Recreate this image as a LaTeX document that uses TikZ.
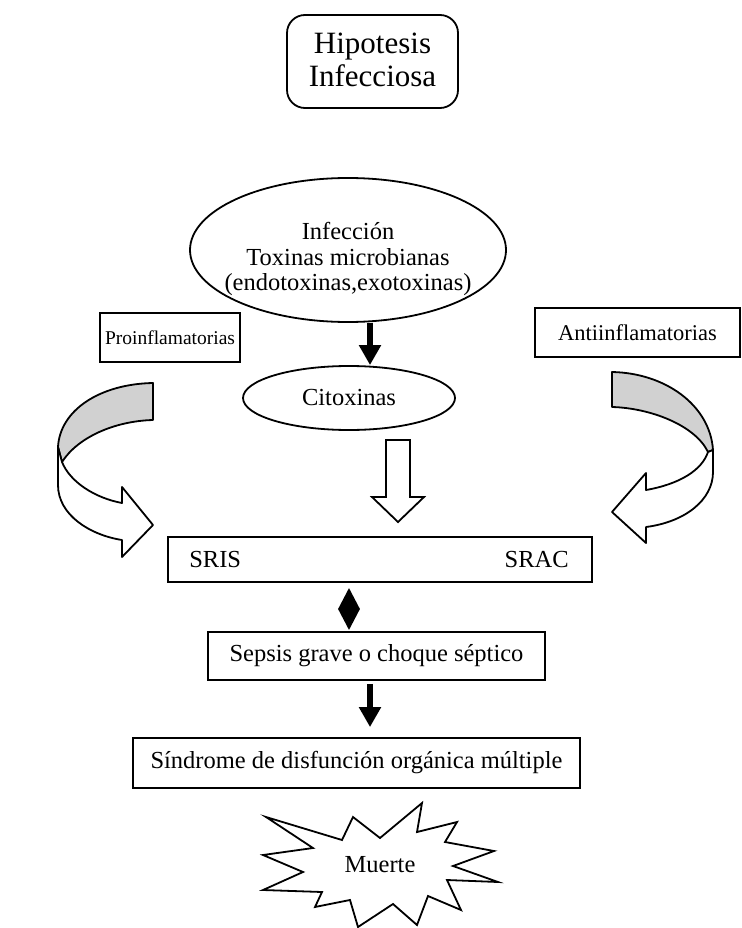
\documentclass[tikz,border=0pt]{standalone}
\usepackage{fontspec}
\setmainfont{Liberation Serif}
\usetikzlibrary{shapes.geometric,arrows.meta,calc}
\begin{document}
\begin{tikzpicture}[x=1pt,y=-1pt,
  lw/.style={line width=1.8pt},
  boxst/.style={draw, lw, inner sep=0pt, align=center},
  txt/.style={font=\fontsize{24.5}{27}\selectfont},
  small/.style={font=\fontsize{19.5}{22}\selectfont},
  blkarrow/.style={line width=6pt, -{Triangle[width=21pt,length=20pt]}},
  ribbon/.style={draw, lw, line join=round},
  graypart/.style={ribbon, fill=black!18},
  whitepart/.style={ribbon, fill=white}
]
\useasboundingbox (0,0) rectangle (741,928);

% top rounded box
\node[boxst, rounded corners=18pt, minimum width=171pt, minimum height=93pt] (hip) at (372.5,61.5) {};
\node[align=center, inner sep=0pt, font=\fontsize{31}{33}\selectfont] (hiptxt) at ($(hip.center)+(0,-2)$) {Hipotesis\\Infecciosa};

% infection ellipse
\node[draw, lw, ellipse, minimum width=316pt, minimum height=144pt, inner sep=0pt] (inf) at (348,250) {};
\node[align=center, inner sep=0pt, font=\fontsize{24.5}{25.5}\selectfont] (inftxt) at ($(inf.center)+(0,9)$)
      {Infección\\Toxinas microbianas\\(endotoxinas,exotoxinas)};

% side boxes
\node[boxst, minimum width=140pt, minimum height=49pt, small] (pro) at (170,337.5) {Proinflamatorias};
\node[boxst, minimum width=205pt, minimum height=49pt, font=\fontsize{22.5}{25}\selectfont] (anti) at (637.5,332.5) {Antiinflamatorias};

% citoxinas
\node[draw, lw, ellipse, minimum width=212pt, minimum height=64pt, inner sep=0pt, txt] (cit) at (349,398) {Citoxinas};

\draw[blkarrow] ($(inf.south)+(22,0)$) -- ($(cit.north)+(21,0)$);

% hollow arrow
\draw[lw, fill=white, line join=miter] (386,440) -- (410,440) -- (410,497) -- (424,497)
   -- (398,522) -- (372,497) -- (386,497) -- cycle;

% left ribbon arrow
\draw[graypart] (153,383) .. controls (100,384) and (60,410) .. (58,447) -- (62,462)
   .. controls (78,437) and (115,421) .. (153,420) -- cycle;
\draw[whitepart] (58,447) -- (58,485) .. controls (58,515) and (90,535) .. (122,540)
   -- (122,557) -- (153,525) -- (122,487) -- (122,503)
   .. controls (95,498) and (70,482) .. (62,462) -- cycle;

% right ribbon arrow
\draw[graypart] (612,372) .. controls (665,373) and (710,405) .. (713,450) -- (708,452)
   .. controls (695,425) and (650,408) .. (612,407) -- cycle;
\draw[whitepart] (713,450) -- (713,472) .. controls (713,500) and (685,522) .. (646,527)
   -- (646,543) -- (612,512) -- (646,473) -- (646,490)
   .. controls (680,484) and (702,470) .. (708,452) -- cycle;

% SRIS / SRAC box
\node[boxst, minimum width=424pt, minimum height=45pt] (sr) at (380,559.5) {};
\node[txt, anchor=west, inner sep=0pt] (sris) at ($(sr.west)+(22,0)$) {SRIS};
\node[txt, anchor=east, inner sep=0pt] (srac) at ($(sr.east)+(-24,0)$) {SRAC};

% diamond
\node[diamond, fill=black, minimum width=22pt, minimum height=42pt, inner sep=0pt] (dia) at (349,609) {};

% sepsis box
\node[boxst, minimum width=337pt, minimum height=48pt, txt] (sep) at (376.5,656) {Sepsis grave o choque séptico};

% sindrome box
\node[boxst, minimum width=447pt, minimum height=50pt, txt] (sind) at (356.5,763) {Síndrome de disfunción orgánica múltiple};

\draw[blkarrow] ($(sep.south)+(-6.5,3)$) -- ($(sind.north)+(13.5,-10)$);

% star
\draw[lw, fill=white, line join=miter] (266,817) -- (342,840) -- (353,817) -- (380,838) -- (422,803)
  -- (417,832) -- (457,822) -- (445,842) -- (494,851) -- (453,866) -- (498,882)
  -- (447,880) -- (461,910) -- (428,896) -- (417,925) -- (393,904) -- (358,927)
  -- (350,900) -- (315,907) -- (322,892) -- (263,890) -- (303,872) -- (263,855)
  -- (313,848) -- cycle;
\node[txt, inner sep=0pt] (muerte) at (380,865) {Muerte};
\end{tikzpicture}
\end{document}
